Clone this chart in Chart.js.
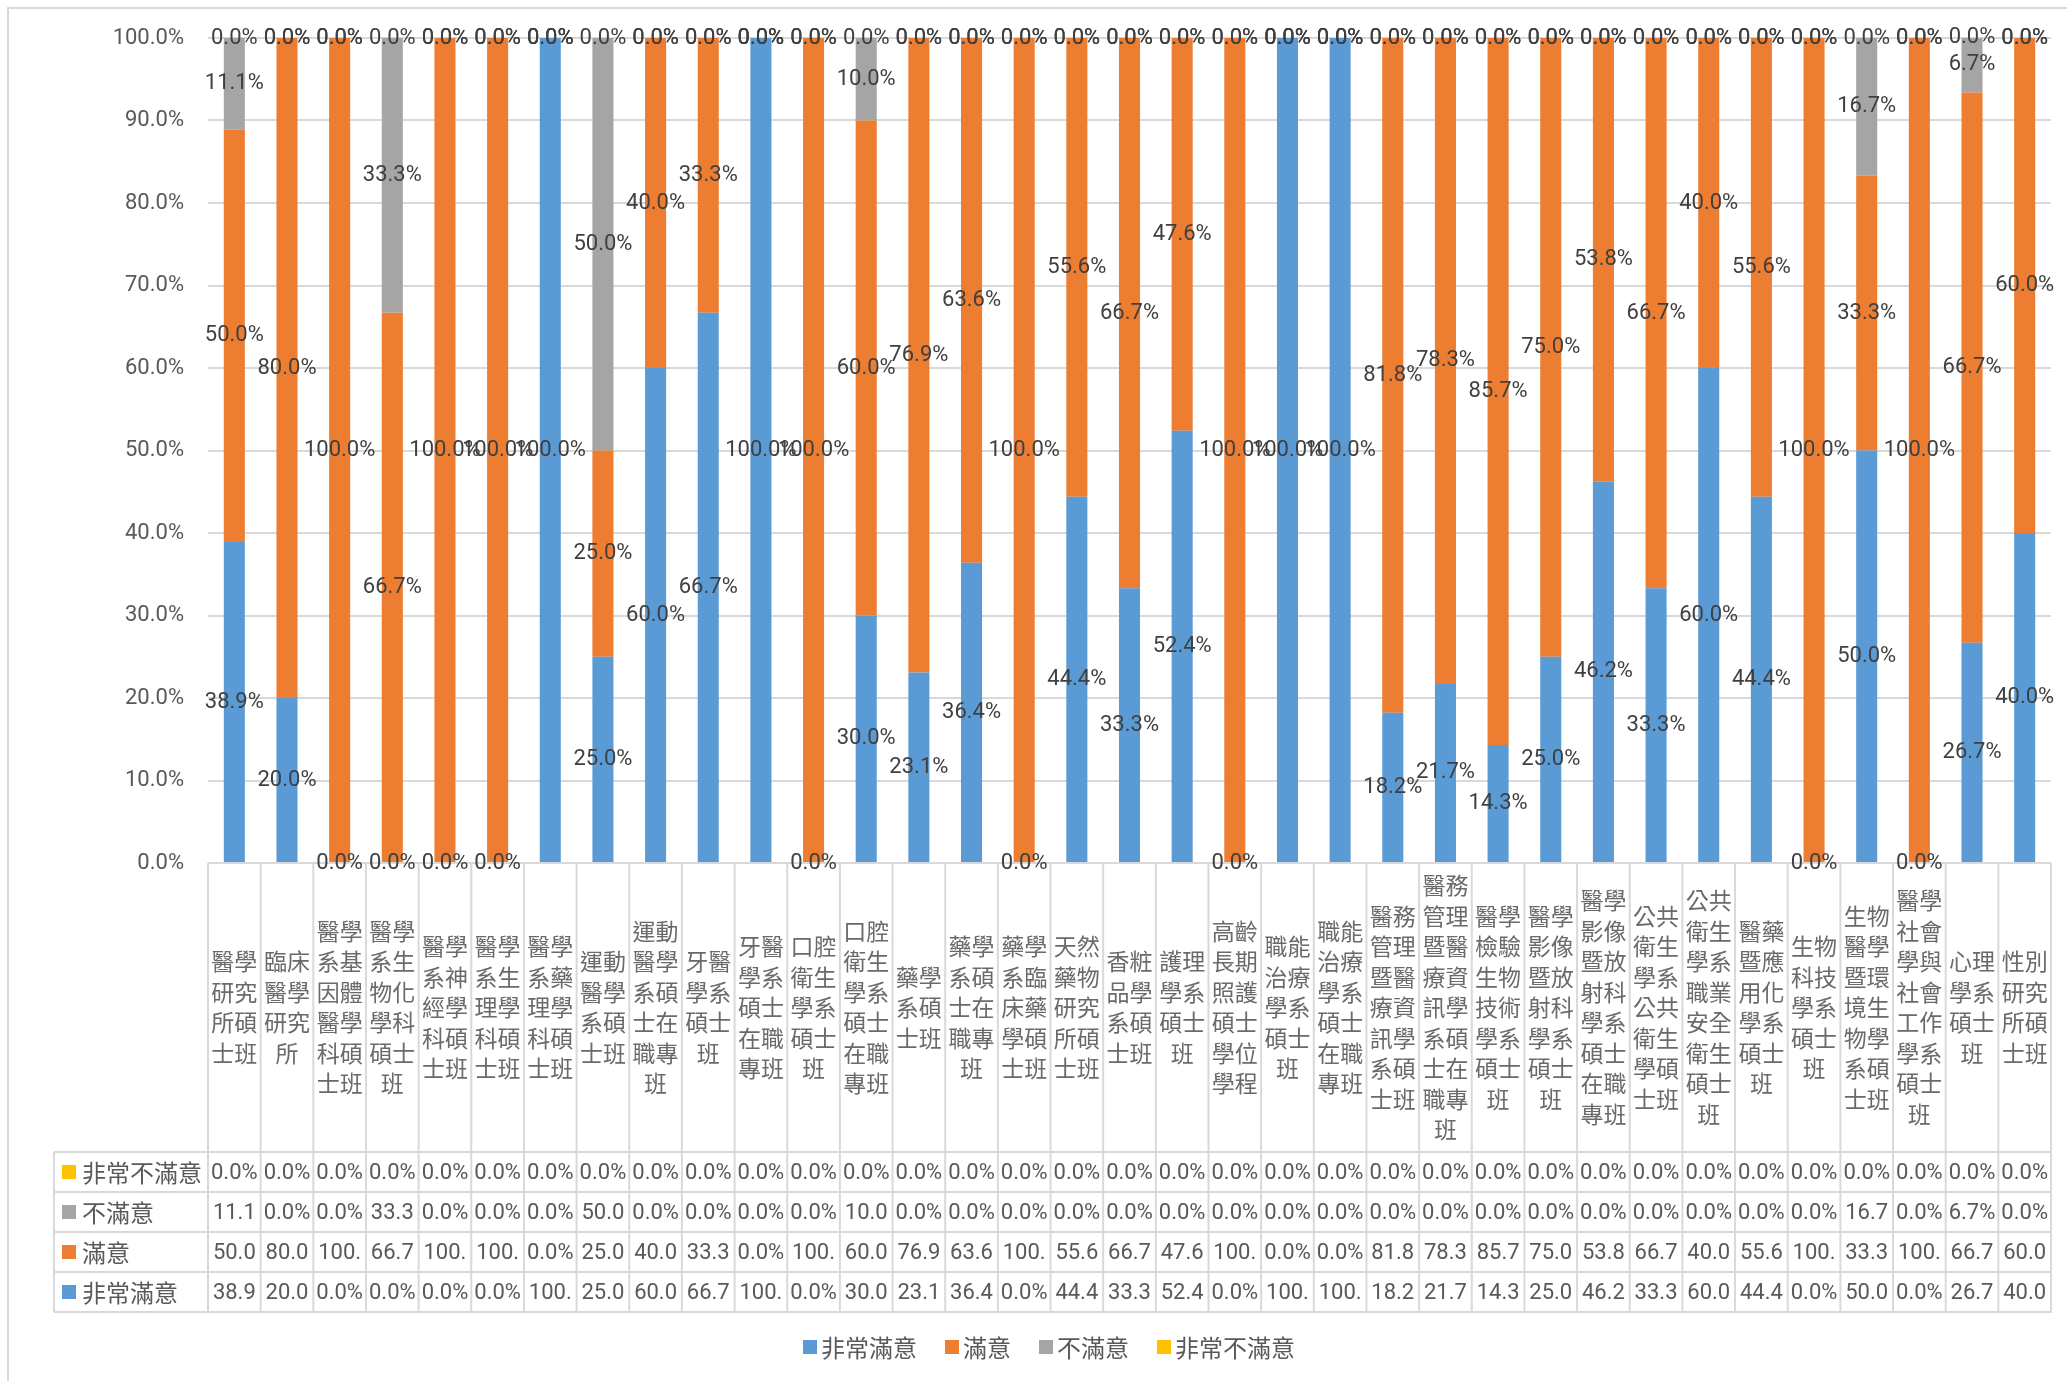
<!DOCTYPE html>
<html><head><meta charset="utf-8">
<script src="https://cdn.jsdelivr.net/npm/chart.js@4.4.1/dist/chart.umd.min.js"></script>
<style>html,body{margin:0;padding:0;background:#fff;}#wrap{width:2067px;height:1381px;position:relative;}</style>
</head><body><div id="wrap"><canvas id="c" width="2067" height="1381"></canvas></div>
<script>
const categories = ['醫學研究所碩士班','臨床醫學研究所','醫學系基因體醫學科碩士班','醫學系生物化學科碩士班','醫學系神經學科碩士班','醫學系生理學科碩士班','醫學系藥理學科碩士班','運動醫學系碩士班','運動醫學系碩士在職專班','牙醫學系碩士班','牙醫學系碩士在職專班','口腔衛生學系碩士班','口腔衛生學系碩士在職專班','藥學系碩士班','藥學系碩士在職專班','藥學系臨床藥學碩士班','天然藥物研究所碩士班','香粧品學系碩士班','護理學系碩士班','高齡長期照護碩士學位學程','職能治療學系碩士班','職能治療學系碩士在職專班','醫務管理暨醫療資訊學系碩士班','醫務管理暨醫療資訊學系碩士在職專班','醫學檢驗生物技術學系碩士班','醫學影像暨放射科學系碩士班','醫學影像暨放射科學系碩士在職專班','公共衛生學系公共衛生學碩士班','公共衛生學系職業安全衛生碩士班','醫藥暨應用化學系碩士班','生物科技學系碩士班','生物醫學暨環境生物學系碩士班','醫學社會學與社會工作學系碩士班','心理學系碩士班','性別研究所碩士班'];
const seriesNames = ['非常滿意','滿意','不滿意','非常不滿意'];
const veryS = [38.9,20.0,0,0,0,0,100,25.0,60.0,66.7,100,0,30.0,23.1,36.4,0,44.4,33.3,52.4,0,100,100,18.2,21.7,14.3,25.0,46.2,33.3,60.0,44.4,0,50.0,0,26.7,40.0];
const satis = [50.0,80.0,100,66.7,100,100,0,25.0,40.0,33.3,0,100,60.0,76.9,63.6,100,55.6,66.7,47.6,100,0,0,81.8,78.3,85.7,75.0,53.8,66.7,40.0,55.6,100,33.3,100,66.7,60.0];
const dissat = [11.1,0,0,33.3,0,0,0,50.0,0,0,0,0,10.0,0,0,0,0,0,0,0,0,0,0,0,0,0,0,0,0,0,0,16.7,0,6.7,0];
const veryD = [0,0,0,0,0,0,0,0,0,0,0,0,0,0,0,0,0,0,0,0,0,0,0,0,0,0,0,0,0,0,0,0,0,0,0];
const seriesColors = ['#5B9BD5','#ED7D31','#A5A5A5','#FFC000'];

const NUMF = 'Roboto,"Liberation Sans","Noto Sans CJK TC",sans-serif';
const NUMSIZE = 22;
const CJKF = '"Noto Sans CJK TC","Noto Sans CJK SC",sans-serif';
const GRID = '#D9D9D9';
const fmt = v => v.toFixed(1) + '%';

const excelPlugin = {
  id: 'excelExtras',
  afterDatasetsDraw(chart) {
    const ctx = chart.ctx;
    ctx.save();
    ctx.font = NUMSIZE + 'px ' + NUMF;
    ctx.fillStyle = '#404040';
    ctx.textAlign = 'center';
    ctx.textBaseline = 'middle';
    chart.data.datasets.forEach((ds, di) => {
      chart.getDatasetMeta(di).data.forEach((el, i) => {
        const y = (el.y + el.base) / 2;
        ctx.fillText(fmt(ds.data[i]), el.x, y);
      });
    });
    ctx.restore();
  },
  afterDraw(chart) {
    const ctx = chart.ctx;
    const ca = chart.chartArea;
    const xs = chart.scales.x;
    const n = categories.length;
    const cw = (ca.right - ca.left) / n;
    const catTop = ca.bottom;
    const tableTop = catTop + 289;
    const rowH = 40;
    const tableLeft = 54;
    const tableBottom = tableTop + rowH * 4;
    ctx.save();
    // outer chart border
    ctx.strokeStyle = GRID; ctx.lineWidth = 2;
    ctx.beginPath();
    ctx.moveTo(8, 1381); ctx.lineTo(8, 8); ctx.lineTo(2067, 8);
    ctx.stroke();
    // table lines
    ctx.beginPath();
    for (let r = 0; r <= 4; r++) {
      const y = tableTop + r * rowH;
      ctx.moveTo(tableLeft, y); ctx.lineTo(ca.right + 1, y);
    }
    ctx.moveTo(tableLeft, tableTop); ctx.lineTo(tableLeft, tableBottom);
    for (let i = 0; i <= n; i++) {
      const x = ca.left + i * cw;
      ctx.moveTo(x, catTop); ctx.lineTo(x, tableBottom);
    }
    ctx.stroke();
    // category labels (2 chars per line, vertically centred)
    ctx.font = '23px ' + CJKF;
    ctx.fillStyle = '#6a6a6a';
    ctx.textAlign = 'center'; ctx.textBaseline = 'middle';
    const lineH = 30.5;
    const midY = (catTop + tableTop) / 2;
    categories.forEach((c, i) => {
      const lines = [];
      for (let k = 0; k < c.length; k += 2) lines.push(c.slice(k, k + 2));
      const x = xs.getPixelForValue(i);
      const y0 = midY - (lines.length - 1) * lineH / 2;
      lines.forEach((ln, li) => ctx.fillText(ln, x, y0 + li * lineH));
    });
    // table rows: top to bottom = reverse series order
    const rowSeries = [3, 2, 1, 0];
    rowSeries.forEach((si, r) => {
      const cy = tableTop + r * rowH + rowH / 2;
      ctx.fillStyle = seriesColors[si];
      ctx.fillRect(62, cy - 7, 14, 14);
      ctx.fillStyle = '#595959';
      ctx.font = '24px ' + CJKF;
      ctx.textAlign = 'left';
      ctx.fillText(seriesNames[si], 82, cy + 1);
      ctx.font = NUMSIZE + 'px ' + NUMF;
      ctx.textAlign = 'center';
      chart.data.datasets[si].data.forEach((v, i) => {
        let s = fmt(v);
        if (s.length > 4) s = s.slice(0, 4);
        ctx.fillText(s, xs.getPixelForValue(i), cy + 1);
      });
    });
    // legend
    ctx.font = '24px ' + CJKF;
    const widths = seriesNames.map(s => 14 + 4 + ctx.measureText(s).width);
    const total = widths.reduce((a, b) => a + b, 0) + 28 * (seriesNames.length - 1);
    let lx = 1049 - total / 2;
    const ly = 1347;
    seriesNames.forEach((s, i) => {
      ctx.fillStyle = seriesColors[i];
      ctx.fillRect(lx, ly - 7, 14, 14);
      ctx.fillStyle = '#595959';
      ctx.textAlign = 'left';
      ctx.fillText(s, lx + 18, ly + 1);
      lx += widths[i] + 28;
    });
    ctx.restore();
  }
};

new Chart(document.getElementById('c'), {
  type: 'bar',
  data: {
    labels: categories,
    datasets: [
      { label: seriesNames[0], data: veryS, backgroundColor: seriesColors[0] },
      { label: seriesNames[1], data: satis, backgroundColor: seriesColors[1] },
      { label: seriesNames[2], data: dissat, backgroundColor: seriesColors[2] },
      { label: seriesNames[3], data: veryD, backgroundColor: seriesColors[3] }
    ]
  },
  options: {
    responsive: false,
    animation: false,
    layout: { padding: { left: 0, right: 16, top: 38, bottom: 518 } },
    datasets: { bar: { categoryPercentage: 1, barPercentage: 0.4, borderWidth: 0 } },
    plugins: { legend: { display: false }, tooltip: { enabled: false } },
    scales: {
      x: { stacked: true, display: false },
      y: {
        stacked: true, min: 0, max: 100,
        afterFit: s => { s.width = 208; },
        border: { display: false },
        grid: { color: GRID, lineWidth: 2, drawTicks: false },
        ticks: { stepSize: 10, padding: 24, color: '#595959', font: { family: NUMF, size: NUMSIZE },
                 callback: v => v.toFixed(1) + '%' }
      }
    }
  },
  plugins: [excelPlugin]
});
</script></body></html>
